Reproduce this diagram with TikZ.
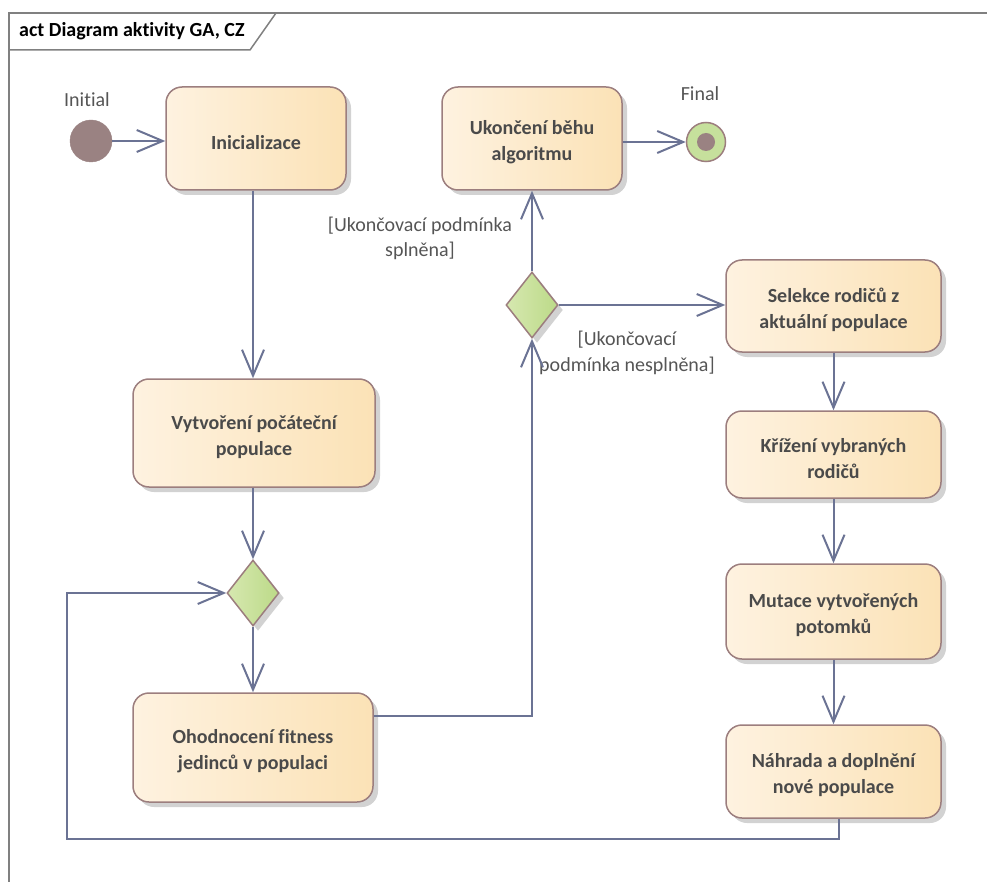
\documentclass[tikz,border=0pt]{standalone}
\usepackage{fontspec}
\setmainfont[Ligatures=NoCommon]{Carlito}
\usetikzlibrary{arrows.meta,shapes.geometric,shadows}
\definecolor{lineC}{HTML}{6B7394}
\definecolor{bordC}{HTML}{9C7E7E}
\definecolor{boxL}{HTML}{FEF2E0}
\definecolor{boxR}{HTML}{FBE2B6}
\definecolor{dmL}{HTML}{D6E8B0}
\definecolor{dmR}{HTML}{BCDA88}
\definecolor{initC}{HTML}{9A8282}
\definecolor{finC}{HTML}{C6E09C}
\definecolor{txtC}{HTML}{4A4A4A}
\definecolor{lblC}{HTML}{555555}
\definecolor{shadC}{HTML}{D2D2D2}
\definecolor{frameC}{HTML}{808080}
\tikzset{
  myshadow/.style={drop shadow={shadow xshift=5pt,shadow yshift=-5pt,fill=shadC,opacity=1}},
  actbox/.style={rectangle,rounded corners=16pt,draw=bordC,line width=1.5pt,
    left color=boxL,right color=boxR,inner sep=0pt,myshadow},
  acttext/.style={text=txtC,align=center,inner sep=0pt,yshift=-4pt,
    font=\bfseries\fontsize{20}{26}\selectfont},
  decis/.style={diamond,draw=bordC,line width=1.5pt,left color=dmL,right color=dmR,
    inner sep=0pt,minimum width=52pt,minimum height=66pt,myshadow},
  conn/.style={draw=lineC,line width=2pt,-{Straight Barb[length=26pt,width=22pt]}},
  lbl/.style={text=lblC,align=center,font=\fontsize{20}{25.5}\selectfont,inner sep=0pt},
}
\begin{document}
\begin{tikzpicture}[x=1pt,y=-1pt]
\useasboundingbox (0,0) rectangle (987,882);
% frame
\draw[frameC,line width=1.5pt] (9,882) -- (9,13) -- (987,13);
\draw[frameC,line width=1.5pt] (9,50) -- (250,50) -- (276,13);
\node[anchor=west,inner sep=0pt,text=black,font=\bfseries\fontsize{20}{24}\selectfont] (title) at (19,31) {act Diagram aktivity GA, CZ};
% nodes
\node[circle,fill=initC,draw=initC,minimum size=42pt,inner sep=0pt] (start) at (91,141) {};
\node[lbl] (startl) at (87,100) {Initial};
\node[actbox,minimum width=180pt,minimum height=103pt] (ini) at (256,138.5) {};
\node[acttext] (init) at (ini.center) {Inicializace};
\node[actbox,minimum width=180pt,minimum height=103pt] (ukon) at (532,138.5) {};
\node[acttext] (ukont) at (ukon.center) {Ukončení běhu\\algoritmu};
\node[circle,fill=finC,draw=bordC,line width=1.5pt,minimum size=39pt,inner sep=0pt] (fin) at (706,142) {};
\node[circle,fill=initC,minimum size=18pt,inner sep=0pt] (findot) at (fin.center) {};
\node[lbl] (finl) at (700,94) {Final};
\node[actbox,minimum width=242pt,minimum height=108pt] (vytv) at (254,433) {};
\node[acttext] (vytvt) at (vytv.center) {Vytvoření počáteční\\populace};
\node[decis] (d1) at (253,593) {};
\node[actbox,minimum width=240pt,minimum height=109pt] (ohod) at (253,747.5) {};
\node[acttext] (ohodt) at (ohod.center) {Ohodnocení fitness\\jedinců v populaci};
\node[decis] (d2) at (532,305) {};
\node[actbox,minimum width=215pt,minimum height=92pt] (sel) at (833.5,306) {};
\node[acttext] (selt) at (sel.center) {Selekce rodičů z\\aktuální populace};
\node[actbox,minimum width=215pt,minimum height=87pt] (kriz) at (833.5,454.5) {};
\node[acttext] (krizt) at (kriz.center) {Křížení vybraných\\rodičů};
\node[actbox,minimum width=215pt,minimum height=95pt] (mut) at (833.5,611.5) {};
\node[acttext] (mutt) at (mut.center) {Mutace vytvořených\\potomků};
\node[actbox,minimum width=215pt,minimum height=93pt] (nah) at (833.5,771.5) {};
\node[acttext] (naht) at (nah.center) {Náhrada a doplnění\\nové populace};
% guard labels
\node[lbl] (g1) at (420,238.5) {[Ukončovací podmínka\\splněna]};
\node[lbl] (g2) at (627,353) {[Ukončovací\\podmínka nesplněna]};
% connectors
\coordinate (c1) at (532,716);
\coordinate (l1) at (839,839);
\coordinate (l2) at (67,839);
\draw[conn] (start.east) -- (start.east -| ini.west);
\draw[conn] (ukon.east |- fin.west) -- (fin.west);
\draw[conn] (ini.south -| d1.north) -- (vytv.north -| d1.north);
\draw[conn] (vytv.south -| d1.north) -- (d1.north);
\draw[conn] (d1.south) -- (ohod.north -| d1.south);
\draw[conn] (ohod.east |- c1) -- (c1) -- (d2.south);
\draw[conn] (d2.north) -- (ukon.south -| d2.north);
\draw[conn] (d2.east) -- (sel.west |- d2.east);
\draw[conn] (sel.south) -- (kriz.north);
\draw[conn] (kriz.south) -- (mut.north);
\draw[conn] (mut.south) -- (nah.north);
\draw[conn] (nah.south -| l1) -- (l1) -- (l2) -- (l2 |- d1.west) -- (d1.west);
\end{tikzpicture}
\end{document}
